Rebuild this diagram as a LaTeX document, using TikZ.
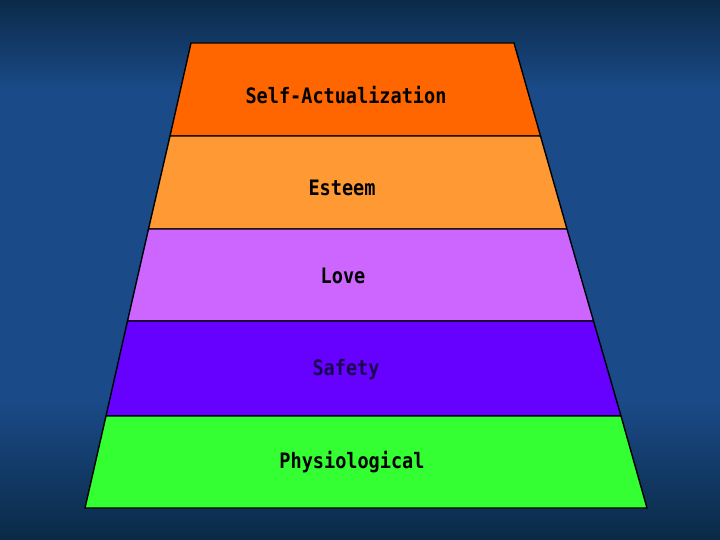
\documentclass[tikz,border=0pt]{standalone}
\usepackage{graphicx}
\usepackage{fontspec}
\newfontfamily\pixfont{DejaVu Sans Mono}
\newcommand{\tallbox}[1]{\scalebox{1.03}[1.18]{#1}}
\begin{document}
\begin{tikzpicture}[x=1pt,y=-1pt,
  band/.style={draw=black,line width=1.4pt,line join=miter},
  lbl/.style={font=\pixfont\bfseries\fontsize{18}{20}\selectfont,anchor=base,inner sep=0pt,text=black}]
\definecolor{bgtop}{HTML}{0B2A48}
\definecolor{bgmid}{HTML}{1A4A88}
\definecolor{bgbot}{HTML}{0A2A46}
\definecolor{cself}{HTML}{FF6600}
\definecolor{cest}{HTML}{FF9933}
\definecolor{clove}{HTML}{CC66FF}
\definecolor{csafe}{HTML}{6600FF}
\definecolor{cphys}{HTML}{33FF33}
\definecolor{tsafe}{HTML}{1A0650}
% background
\path[top color=bgtop,bottom color=bgmid] (0,0) rectangle (720,90);
\fill[bgmid] (0,89) rectangle (720,401);
\path[top color=bgmid,bottom color=bgbot] (0,400) rectangle (720,540);
\useasboundingbox (0,0) rectangle (720,540);
% corners
\coordinate (l0) at (191,43);   \coordinate (r0) at (514,43);
\coordinate (l1) at (170,136);  \coordinate (r1) at (540.5,136);
\coordinate (l2) at (148.5,229);\coordinate (r2) at (567,229);
\coordinate (l3) at (127.5,321);\coordinate (r3) at (593.5,321);
\coordinate (l4) at (106,416);  \coordinate (r4) at (621,416);
\coordinate (l5) at (85,508);   \coordinate (r5) at (647,508);
% bands
\path[band,fill=cself] (l0) -- (r0) -- (r1) -- (l1) -- cycle;
\path[band,fill=cest]  (l1) -- (r1) -- (r2) -- (l2) -- cycle;
\path[band,fill=clove] (l2) -- (r2) -- (r3) -- (l3) -- cycle;
\path[band,fill=csafe] (l3) -- (r3) -- (r4) -- (l4) -- cycle;
\path[band,fill=cphys] (l4) -- (r4) -- (r5) -- (l5) -- cycle;
% labels
\node[lbl] (tself) at (346,104) {\tallbox{Self-Actualization}};
\node[lbl] (test)  at (342,196) {\tallbox{Esteem}};
\node[lbl] (tlove) at (343,283) {\tallbox{Love}};
\node[lbl,text=tsafe] (tsafe) at (346,375) {\tallbox{Safety}};
\node[lbl] (tphys) at (352,468) {\tallbox{Physiological}};
\end{tikzpicture}
\end{document}
